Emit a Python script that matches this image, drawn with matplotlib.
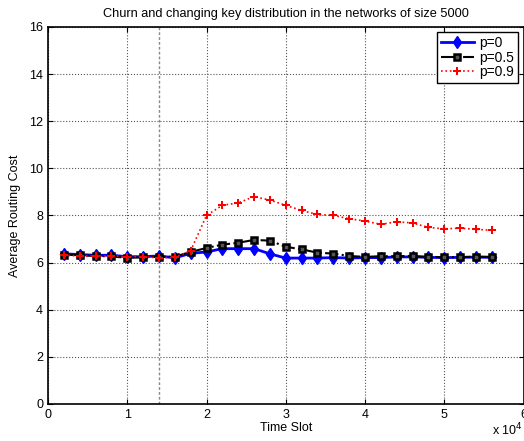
import matplotlib
matplotlib.use("Agg")
import matplotlib.pyplot as plt
import numpy as np

plt.rcParams.update({
    'font.family': ['Liberation Sans', 'DejaVu Sans'],
    'font.size': 9,
    'xtick.direction': 'in',
    'ytick.direction': 'in',
    'xtick.top': True,
    'ytick.right': True,
})

# time slots (x 10^4)
time_slot = [0.2, 0.4, 0.6, 0.8, 1.0, 1.2, 1.4, 1.6, 1.8, 2.0, 2.2, 2.4, 2.6, 2.8,
             3.0, 3.2, 3.4, 3.6, 3.8, 4.0, 4.2, 4.4, 4.6, 4.8, 5.0, 5.2, 5.4, 5.6]

cost_p0 = [6.37, 6.34, 6.31, 6.31, 6.25, 6.25, 6.28, 6.20, 6.39, 6.45, 6.59, 6.59, 6.59, 6.37,
           6.19, 6.19, 6.19, 6.21, 6.19, 6.21, 6.21, 6.24, 6.24, 6.22, 6.21, 6.22, 6.23, 6.22]
cost_p05 = [6.34, 6.31, 6.28, 6.26, 6.20, 6.22, 6.25, 6.25, 6.45, 6.62, 6.76, 6.84, 6.96, 6.93,
            6.67, 6.56, 6.42, 6.38, 6.28, 6.24, 6.27, 6.27, 6.28, 6.24, 6.23, 6.23, 6.25, 6.24]
cost_p09 = [6.31, 6.28, 6.28, 6.28, 6.25, 6.25, 6.20, 6.22, 6.50, 8.00, 8.43, 8.53, 8.80, 8.65,
            8.43, 8.21, 8.04, 8.00, 7.86, 7.76, 7.62, 7.73, 7.68, 7.49, 7.43, 7.46, 7.41, 7.37]

event_time = 1.4

fig = plt.figure(figsize=(5.24, 4.41), dpi=100)
ax = fig.add_axes([0.0916, 0.084, 0.9075, 0.855])

ax.axvline(event_time, color='#888888', linestyle=(0, (2, 1.5)), linewidth=1.0, zorder=1)

ax.plot(time_slot, cost_p0, '-', color='blue', linewidth=2, marker='d',
        markersize=6, markerfacecolor='blue', label='p=0', zorder=3)
ax.plot(time_slot, cost_p05, '-.', color='black', linewidth=1.5, marker='s',
        markersize=5, markerfacecolor='#555555', markeredgewidth=1.8, label='p=0.5', zorder=4)
ax.plot(time_slot, cost_p09, ':', color='red', linewidth=1.2, marker='P',
        markersize=6, markerfacecolor='red', markeredgewidth=0, label='p=0.9', zorder=5)

ax.set_xlim(0, 6)
ax.set_ylim(0, 16)
ax.set_xticks(np.arange(0, 7, 1))
ax.set_yticks(np.arange(0, 17, 2))
ax.grid(True, linestyle=':', color='#555555', linewidth=0.8)
for s in ax.spines.values():
    s.set_linewidth(1.2)

ax.set_xlabel('Time Slot', labelpad=1)
ax.set_ylabel('Average Routing Cost', labelpad=6)
ax.set_title('Churn and changing key distribution in the networks of size 5000',
             fontsize=9.2, pad=7)
fig.text(0.938, 0.012, r'x 10$^4$', fontsize=9)

leg = ax.legend(loc='upper right', fancybox=False, edgecolor='black', framealpha=1,
                borderaxespad=0.4, handlelength=2.4, handletextpad=0.4,
                labelspacing=0.05, borderpad=0.25, fontsize=10)
leg.get_frame().set_linewidth(1.0)

fig.savefig('out.png', dpi=100)
